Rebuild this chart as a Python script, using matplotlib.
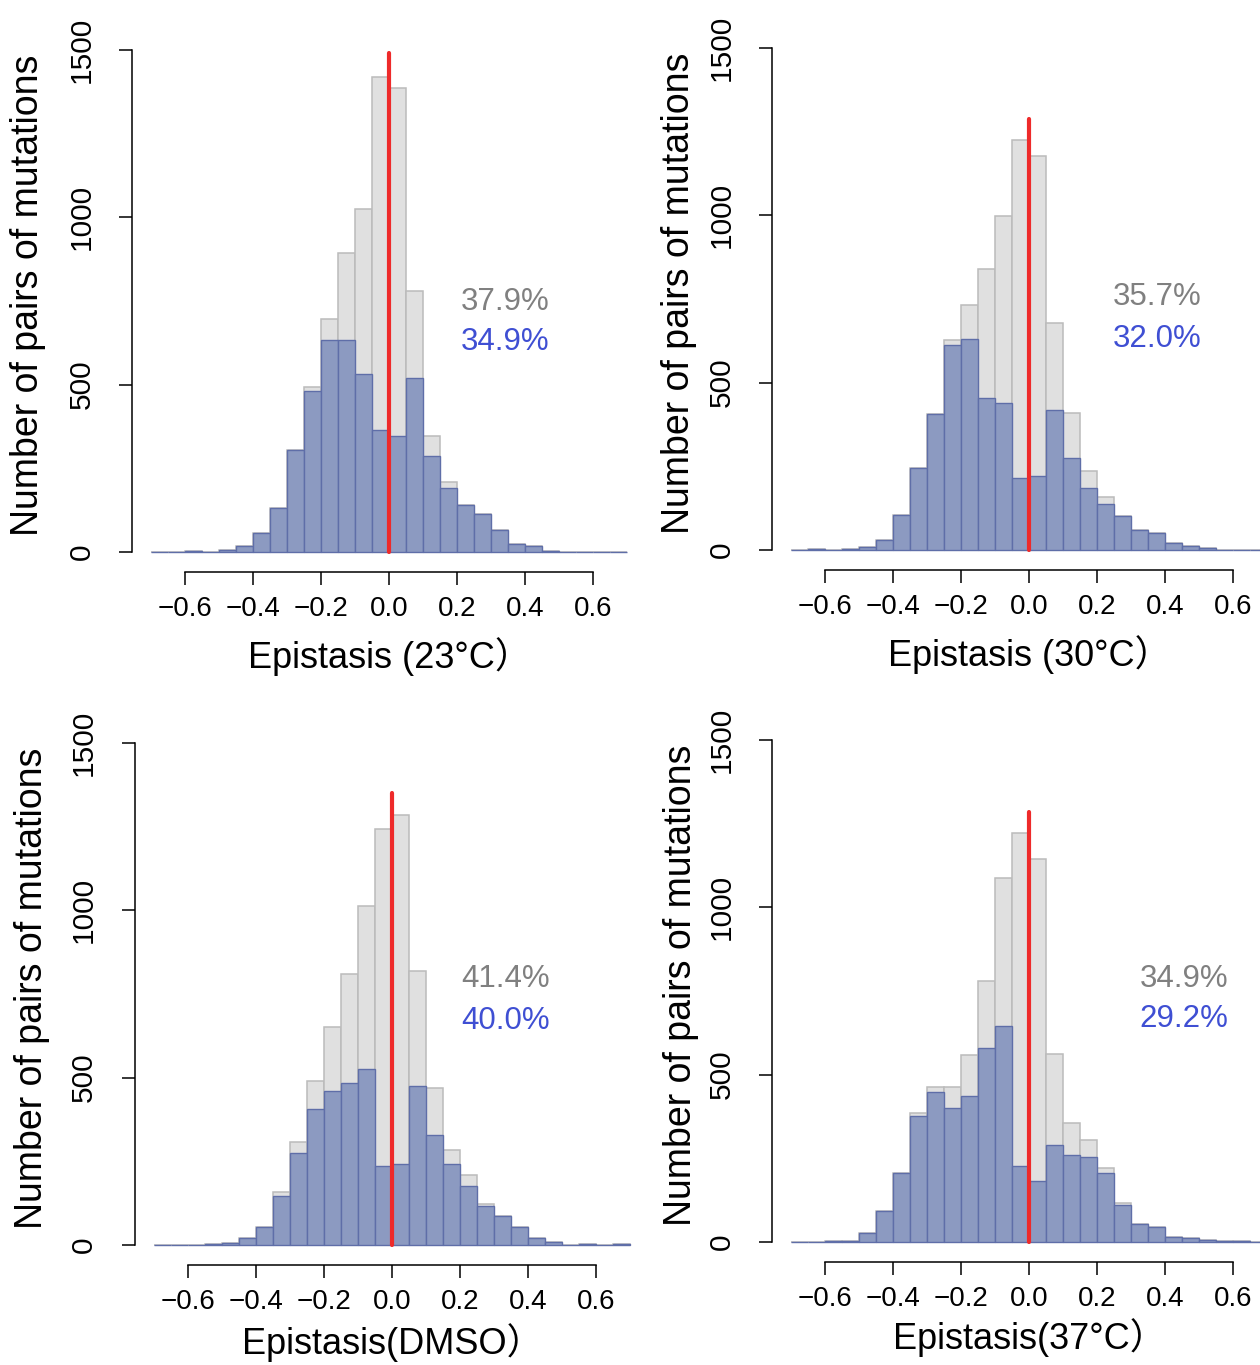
import matplotlib
matplotlib.use('Agg')
import matplotlib.pyplot as plt
import numpy as np

plt.rcParams['font.family'] = ['Liberation Sans', 'Noto Sans CJK TC']

# bin edges of the histograms (width 0.05 from -0.7 to 0.7)
bin_left = np.round(np.arange(-0.7, 0.7, 0.05), 3)
bin_width = 0.05

# counts per bin: all pairs (grey) and subset (blue)
grey_23 = [0, 0, 2, 0, 5, 18, 57, 131, 306, 492, 696, 892, 1025, 1418,
           1385, 780, 346, 209, 140, 113, 67, 25, 18, 3, 0, 0, 0, 0]
blue_23 = [0, 0, 2, 0, 5, 18, 57, 131, 306, 481, 632, 632, 531, 364,
           348, 519, 286, 192, 140, 113, 67, 25, 18, 3, 0, 0, 0, 0]

grey_30 = [0, 2, 0, 3, 8, 30, 105, 246, 405, 626, 733, 840, 998, 1224,
           1176, 679, 409, 236, 157, 102, 60, 51, 21, 13, 7, 1, 1, 1]
blue_30 = [0, 2, 0, 3, 8, 30, 105, 246, 405, 612, 630, 455, 438, 214,
           222, 417, 274, 185, 136, 102, 60, 51, 21, 13, 7, 1, 1, 1]

grey_dmso = [0, 0, 0, 3, 7, 22, 54, 157, 309, 491, 652, 811, 1012, 1244,
             1285, 819, 470, 285, 209, 123, 88, 53, 22, 9, 0, 2, 0, 2]
blue_dmso = [0, 0, 0, 3, 7, 22, 54, 147, 276, 407, 461, 484, 525, 236,
             242, 476, 329, 242, 177, 118, 88, 53, 22, 9, 0, 2, 0, 2]

grey_37 = [0, 0, 2, 3, 26, 92, 205, 384, 464, 462, 558, 779, 1088, 1222,
           1145, 561, 357, 304, 221, 116, 55, 46, 15, 11, 5, 3, 2, 0]
blue_37 = [0, 0, 2, 3, 26, 92, 205, 377, 447, 400, 435, 579, 644, 226,
           182, 289, 260, 254, 205, 110, 55, 46, 15, 11, 5, 3, 2, 0]

# panel texts
x_titles = ['Epistasis (23°C）', 'Epistasis (30°C）', 'Epistasis(DMSO）', 'Epistasis(37°C）']
pct_grey = ['37.9%', '35.7%', '41.4%', '34.9%']
pct_blue = ['34.9%', '32.0%', '40.0%', '29.2%']
pct_x = [0.342, 0.377, 0.334, 0.454]
pct_y_grey = [747, 756, 795, 786]
pct_y_blue = [628, 630, 669, 666]
red_top = [1490, 1288, 1352, 1285]

greys = [grey_23, grey_30, grey_dmso, grey_37]
blues = [blue_23, blue_30, blue_dmso, blue_37]

# axes boxes in pixels: left, location of y=0, ylabel right edge offset, xlabel offset
W, H = 1260, 1365
boxes = [(132.2, 552, 86, -0.12), (772.2, 550, 75, -0.12),
         (134.9, 1245, 85, -0.107), (772.2, 1242, 73, -0.104)]
px_per_count = 502 / 1500.0
px_per_unit = 340.0

fig = plt.figure(figsize=(12.6, 13.65), dpi=100)

for i in range(4):
    left, zero_y, lab_off, xlab_y = boxes[i]
    top = zero_y - 1560 * px_per_count
    h = 1620 * px_per_count
    w = 1.512 * px_per_unit
    ax = fig.add_axes([left / W, 1 - (top + h) / H, w / W, h / H])

    ax.bar(bin_left, greys[i], width=bin_width, align='edge',
           color='#E0E0E0', edgecolor='#BBBBBB', linewidth=1.1)
    ax.bar(bin_left, blues[i], width=bin_width, align='edge',
           color='#8C9AC1', edgecolor='#5F6EA8', linewidth=1.0)
    ax.plot([0, 0], [0, red_top[i]], color='#EE2A2A', linewidth=3,
            solid_capstyle='round')

    ax.text(pct_x[i], pct_y_grey[i], pct_grey[i], color='#808080',
            fontsize=22.5, ha='center', va='center')
    ax.text(pct_x[i], pct_y_blue[i], pct_blue[i], color='#3F4FD3',
            fontsize=22.5, ha='center', va='center')

    ax.set_xlim(-0.756, 0.756)
    ax.set_ylim(-60, 1560)
    ax.set_xticks([-0.6, -0.4, -0.2, 0.0, 0.2, 0.4, 0.6])
    ax.set_xticklabels(['−0.6', '−0.4', '−0.2', '0.0', '0.2', '0.4', '0.6'])
    ax.set_yticks([0, 500, 1000, 1500])
    ax.set_yticklabels(['0', '500', '1000', '1500'], rotation=90, va='center')

    for s in ['top', 'right']:
        ax.spines[s].set_visible(False)
    ax.spines['left'].set_bounds(0, 1500)
    ax.spines['bottom'].set_bounds(-0.6, 0.6)
    ax.spines['left'].set_linewidth(1.1)
    ax.spines['bottom'].set_linewidth(1.1)
    ax.tick_params(axis='both', length=9.5, width=1.1)
    ax.tick_params(axis='x', pad=8, labelsize=20)
    ax.tick_params(axis='y', pad=17, labelsize=21.5)

    ax.set_xlabel(x_titles[i], fontsize=26)
    ax.xaxis.set_label_coords(0.5, xlab_y)
    ax.set_ylabel('Number of pairs of mutations', fontsize=27)
    ax.yaxis.set_label_coords(-lab_off / w, (60 + 766) / 1620)

fig.savefig('out.png', dpi=100)
